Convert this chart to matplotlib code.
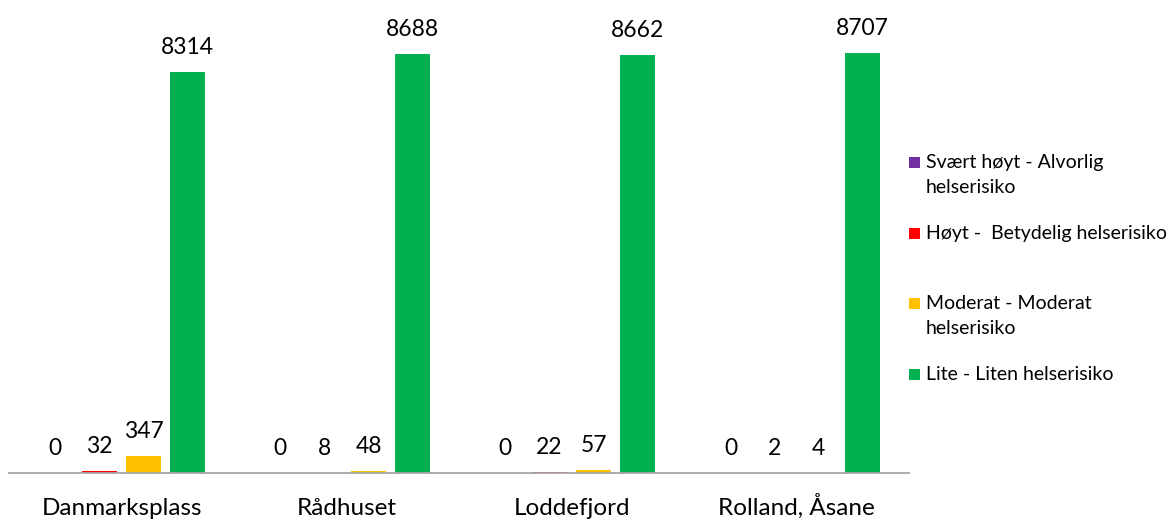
import matplotlib.pyplot as plt
import numpy as np
from matplotlib.patches import Rectangle

# Luftkvalitet per målestasjon: antall timer i hver risikoklasse
stations = ["Danmarksplass", "Rådhuset", "Loddefjord", "Rolland, Åsane"]
svaert_hoyt = [0, 0, 0, 0]
hoyt = [32, 8, 22, 2]
moderat = [347, 48, 57, 4]
lite = [8314, 8688, 8662, 8707]

series_labels = [
    "Svært høyt - Alvorlig\nhelserisiko",
    "Høyt -  Betydelig helserisiko",
    "Moderat - Moderat\nhelserisiko",
    "Lite - Liten helserisiko",
]
series_colors = ["#7030A0", "#FF0000", "#FFC000", "#00B050"]

plt.rcParams["font.family"] = ["Lato", "DejaVu Sans"]

fig = plt.figure(figsize=(11.69, 5.19), dpi=100)
ax = fig.add_axes([0.0077, 0.0886, 0.77, 0.9114])

x = np.arange(len(stations))
width = 0.156
step = 0.196
all_series = [svaert_hoyt, hoyt, moderat, lite]

for i, (vals, color) in enumerate(zip(all_series, series_colors)):
    pos = x + (i - 1.5) * step
    bars = ax.bar(pos, vals, width=width, color=color, linewidth=0)
    for b, v in zip(bars, vals):
        ax.annotate(str(v), (b.get_x() + b.get_width() / 2, v),
                    xytext=(0, 13), textcoords="offset points",
                    ha="center", va="baseline", fontsize=16.5)

ax.set_xlim(-0.5, 3.5)
ax.set_ylim(0, 9807)
ax.set_xticks(x)
ax.set_xticklabels(stations, fontsize=17.5, va="baseline")
ax.tick_params(axis="x", length=0, pad=30)
ax.set_yticks([])
for side in ["left", "right", "top"]:
    ax.spines[side].set_visible(False)
ax.spines["bottom"].set_color("#A6A6A6")
ax.spines["bottom"].set_linewidth(1.3)

# Legend entries placed at fixed baselines (pixels from top)
legend_baselines = [168, 239, 309, 380]
line_step = 25
W, H = 1169, 519
for label, color, yb in zip(series_labels, series_colors, legend_baselines):
    fig.add_artist(Rectangle((909 / W, 1 - yb / H), 11 / W, 11 / H,
                             transform=fig.transFigure, color=color,
                             linewidth=0))
    for k, line in enumerate(label.split("\n")):
        fig.text(926 / W, 1 - (yb + k * line_step) / H, line, fontsize=14,
                 ha="left", va="baseline")

fig.savefig("out.png", dpi=100)
